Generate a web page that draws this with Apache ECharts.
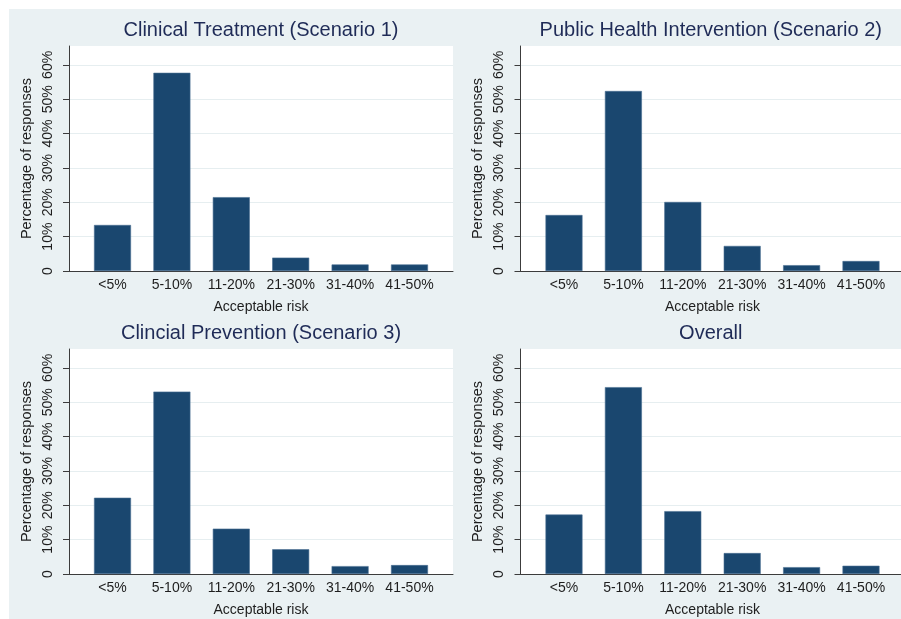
<!DOCTYPE html>
<html lang="en">
<head>
  <meta charset="UTF-8">
  <title>Acceptable risk by scenario</title>
  <script src="https://cdn.jsdelivr.net/npm/echarts@6/dist/echarts.min.js"></script>
  <style>
    html, body { margin: 0; padding: 0; background: #fff; }
  </style>
</head>
<body>

<div id="chart" style="width: 901px; height: 619px;"></div>

<script>
  // categories and values (% of responses)
  var riskCategories = ['<5%', '5-10%', '11-20%', '21-30%', '31-40%', '41-50%'];
  var panelTitles = [
    'Clinical Treatment (Scenario 1)',
    'Public Health Intervention (Scenario 2)',
    'Clincial Prevention (Scenario 3)',
    'Overall'
  ];
  var scenario1 = [13.4, 57.7, 21.5, 3.9, 1.9, 1.9];
  var scenario2 = [16.3, 52.4, 20.1, 7.3, 1.7, 2.9];
  var scenario3 = [22.2, 53.1, 13.2, 7.2, 2.3, 2.6];
  var overall   = [17.3, 54.4, 18.3, 6.1, 2.0, 2.4];
  var yTicks = [0, 10, 20, 30, 40, 50, 60];

  var panelValues = [scenario1, scenario2, scenario3, overall];

  var font = "'Liberation Sans', Arial, Helvetica, sans-serif";
  var barColor = '#1a476f';
  var axisColor = '#3c3c3c';
  var textColor = '#1e1e1e';
  var yMax = 65.5;

  // plot area boxes: [left, top, width, height]
  var boxes = [
    [69, 46, 384, 225],
    [520.5, 46, 380.5, 225],
    [69, 349, 384, 225],
    [520.5, 349, 380.5, 225]
  ];
  var padX = 13.8, bandW = 59.4;

  var myChart = echarts.init(document.getElementById('chart'));

  var grid = [], xAxis = [], yAxis = [], series = [], title = [];

  panelValues.forEach(function (vals, i) {
    var b = boxes[i];
    // frame grid: white plot area, y axis, gridlines, x axis line
    grid.push({
      left: b[0], top: b[1], width: b[2], height: b[3],
      show: true, backgroundColor: '#fff', borderWidth: 0
    });
    // bar grid: inset so the bands sit inside the frame like Stata
    grid.push({
      left: b[0] + padX, top: b[1], width: bandW * riskCategories.length, height: b[3]
    });

    xAxis.push({
      gridIndex: 2 * i, type: 'value', min: 0, max: 1,
      axisLine: { show: true, onZero: false, lineStyle: { color: axisColor, width: 1 } },
      axisTick: { show: false }, axisLabel: { show: false }, splitLine: { show: false }
    });
    xAxis.push({
      gridIndex: 2 * i + 1, type: 'category', data: riskCategories,
      axisLine: { show: false }, axisTick: { show: false },
      axisLabel: { margin: 7, fontSize: 14, color: textColor, fontFamily: font, interval: 0 },
      name: 'Acceptable risk', nameLocation: 'middle', nameGap: 29,
      nameTextStyle: { fontSize: 14, color: textColor, fontFamily: font }
    });

    yAxis.push({
      gridIndex: 2 * i, type: 'value', min: 0, max: yMax, interval: 10,
      axisLine: { show: true, lineStyle: { color: axisColor, width: 1 } },
      axisTick: { show: true, length: 6, customValues: yTicks, lineStyle: { color: axisColor } },
      axisLabel: {
        customValues: yTicks, rotate: 90, margin: 14, fontSize: 14,
        color: textColor, fontFamily: font,
        formatter: function (v) { return v === 0 ? '0' : v + '%'; }
      },
      splitLine: { show: true, lineStyle: { color: '#e6eef0', width: 1 } },
      name: 'Percentage of responses', nameLocation: 'middle', nameGap: 35,
      nameTextStyle: { fontSize: 14.5, color: textColor, fontFamily: font }
    });
    yAxis.push({
      gridIndex: 2 * i + 1, type: 'value', min: 0, max: yMax, show: false
    });

    series.push({
      type: 'bar', xAxisIndex: 2 * i + 1, yAxisIndex: 2 * i + 1,
      data: vals, barWidth: 37,
      itemStyle: { color: barColor, borderColor: '#4a6f92', borderWidth: 0.6 },
      silent: true
    });

    title.push({
      text: panelTitles[i],
      left: b[0] + b[2] / 2,
      textAlign: 'center',
      top: b[1] - 26,
      padding: 0,
      textStyle: { fontSize: 20, fontWeight: 'normal', color: '#1f2b57', fontFamily: font }
    });
  });

  var option = {
    backgroundColor: '#fff',
    animation: false,
    graphic: [{
      type: 'rect', z: -100, silent: true,
      shape: { x: 9, y: 9, width: 892, height: 610 },
      style: { fill: '#eaf1f3' }
    }],
    title: title,
    grid: grid,
    xAxis: xAxis,
    yAxis: yAxis,
    series: series
  };

  myChart.setOption(option);
</script>

</body>
</html>
